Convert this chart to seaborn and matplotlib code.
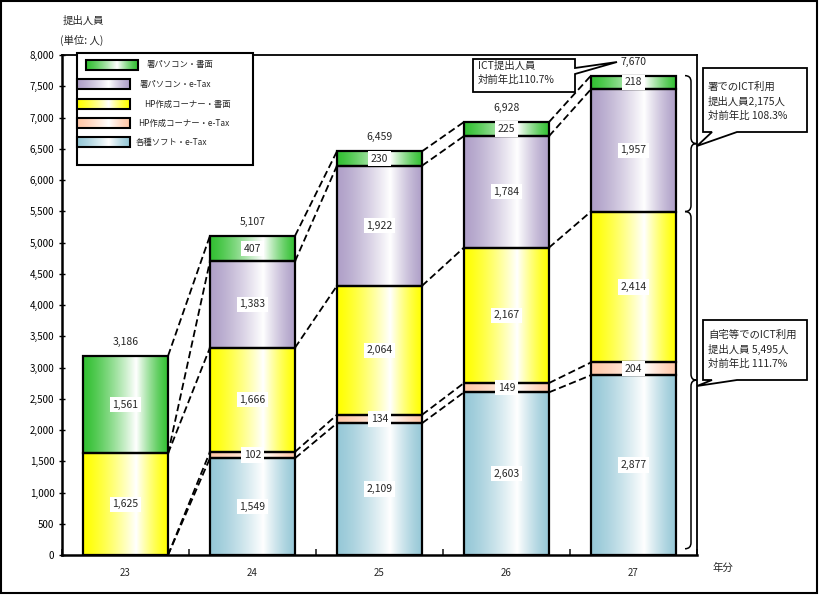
import numpy as np
import pandas as pd
import matplotlib
matplotlib.use("Agg")
import matplotlib.pyplot as plt
import seaborn as sns
from matplotlib.patches import Rectangle, Polygon, PathPatch
from matplotlib.path import Path
from matplotlib.ticker import FuncFormatter, MultipleLocator

sns.set_theme(style="white")
plt.rcParams['font.family'] = ['Noto Sans CJK JP', 'DejaVu Sans']

# ---------------- data ----------------
years = ["23", "24", "25", "26", "27"]
soft_etax = [0, 1549, 2109, 2603, 2877]        # 各種ソフト・e-Tax
hp_etax = [0, 102, 134, 149, 204]              # HP作成コーナー・e-Tax
hp_paper = [1625, 1666, 2064, 2167, 2414]      # HP作成コーナー・書面
office_etax = [0, 1383, 1922, 1784, 1957]      # 署パソコン・e-Tax
office_paper = [1561, 407, 230, 225, 218]      # 署パソコン・書面
series_names = ["各種ソフト・e-Tax", "HP作成コーナー・e-Tax", "HP作成コーナー・書面",
                "署パソコン・e-Tax", "署パソコン・書面"]
series_vals = [soft_etax, hp_etax, hp_paper, office_etax, office_paper]
series_colors = ["#96c8d7", "#ffc8a8", "#ffff00", "#afa0c8", "#33c033"]
yticks = list(range(0, 8001, 500))
callout_total = "ICT提出人員\n対前年比110.7%"
callout_office = "署でのICT利用\n提出人員2,175人\n対前年比 108.3%"
callout_home = "自宅等でのICT利用\n提出人員 5,495人\n対前年比 111.7%"

W, H = 820, 596
fig = plt.figure(figsize=(W / 100, H / 100), dpi=100)
fig.patch.set_facecolor("white")
ax = fig.add_axes([62 / W, 1 - 555 / H, (697 - 62) / W, (555 - 55) / H])
ax.set_facecolor("white")


def grad_rgb(color, n=256, peak=0.62, power=1.3):
    c = np.array(matplotlib.colors.to_rgb(color))
    t = np.linspace(0, 1, n)
    w = np.where(t < peak, t / peak, (1 - t) / (1 - peak))
    w = np.clip(w, 0, 1) ** power
    rgb = c[None, :] * (1 - w[:, None]) + np.ones(3)[None, :] * w[:, None]
    return rgb[None, :, :]


bar_width = 0.67
bottoms = np.zeros(len(years))
cum_tops = []
for name, vals, col in zip(series_names, series_vals, series_colors):
    df = pd.DataFrame({"year": years, "v": vals})
    n0 = len(ax.patches)
    sns.barplot(data=df, x="year", y="v", order=years, color=col, width=bar_width,
                bottom=bottoms.copy(), ax=ax, errorbar=None, saturation=1)
    new = ax.patches[n0:]
    for p in new:
        x0, y0 = p.get_x(), p.get_y()
        w, h = p.get_width(), p.get_height()
        p.set_zorder(3)
        p.set_edgecolor("black")
        p.set_linewidth(1.6)
        if h > 0:
            ax.imshow(grad_rgb(col), extent=[x0, x0 + w, y0, y0 + h],
                      aspect="auto", zorder=2, interpolation="bilinear")
            p.set_facecolor("none")
        else:
            p.set_facecolor("none")
            p.set_linewidth(0)
    # value labels
    for i, v in enumerate(vals):
        if v > 0:
            ax.text(i, bottoms[i] + v / 2, f"{v:,}", ha="center", va="center",
                    fontsize=7.5, zorder=6,
                    bbox=dict(boxstyle="square,pad=0.25", fc="white", ec="none"))
    bottoms = bottoms + np.array(vals)
    cum_tops.append(bottoms.copy())

totals = bottoms
# series lines
hw = bar_width / 2
for tops in cum_tops:
    for i in range(len(years) - 1):
        ax.plot([i + hw, i + 1 - hw], [tops[i], tops[i + 1]], color="black",
                lw=1.3, ls=(0, (4, 2)), zorder=4)

# totals above bars
for i, t in enumerate(totals):
    ax.annotate(f"{int(t):,}", (i, t), xytext=(0, 10), textcoords="offset points",
                ha="center", va="center", fontsize=7.5, zorder=6)

# braces
def brace(ax, ytop, ybot, xt=4.5 - 0.5 / 127, xs=4.5 - 6 / 127, xc=4.5 - 12 / 127, r=96):
    ym = (ytop + ybot) / 2
    verts = [(xc, ytop), (xs, ytop), (xs, ytop - r),
             (xs, ym + r),
             (xs, ym), (xt, ym),
             (xs, ym), (xs, ym - r),
             (xs, ybot + r),
             (xs, ybot), (xc, ybot)]
    codes = [Path.MOVETO, Path.CURVE3, Path.CURVE3, Path.LINETO,
             Path.CURVE3, Path.CURVE3, Path.CURVE3, Path.CURVE3,
             Path.LINETO, Path.CURVE3, Path.CURVE3]
    ax.add_patch(PathPatch(Path(verts, codes), fc="none", ec="black", lw=1.1, zorder=5,
                           clip_on=False))

home_top = cum_tops[2][-1]
brace(ax, totals[-1], home_top)
brace(ax, home_top, 100)

ax.set_xlim(-0.5, 4.5)
ax.set_ylim(0, 8000)
ax.set_yticks(yticks)
ax.yaxis.set_major_formatter(FuncFormatter(lambda v, p: f"{int(v):,}"))
ax.set_xticks(range(len(years)))
ax.set_xticklabels(years)
ax.xaxis.set_minor_locator(MultipleLocator(1, offset=0.5))
ax.tick_params(axis="y", which="major", direction="inout", length=5, width=1,
               labelsize=7, pad=3, left=True, colors="black")
ax.tick_params(axis="x", which="major", length=0, labelsize=7, pad=9)
ax.tick_params(axis="x", which="minor", direction="in", length=4, width=1.2, bottom=True)
ax.set_xlabel("")
ax.set_ylabel("")
for s in ax.spines.values():
    s.set_color("black")
    s.set_linewidth(1.3)
    s.set_visible(True)
ax.spines["left"].set_linewidth(1.8)
ax.spines["bottom"].set_linewidth(1.8)

# ---------------- overlay (pixel coordinates) ----------------
oax = fig.add_axes([0, 0, 1, 1], zorder=10)
oax.set_xlim(0, W)
oax.set_ylim(H, 0)
oax.axis("off")
oax.patch.set_alpha(0)

# figure border
oax.add_patch(Rectangle((1, 1), 816, 592, fc="none", ec="black", lw=1.5))

# axis titles
oax.text(63, 21, "提出人員", ha="left", va="center", fontsize=7.5)
oax.text(60, 40, "(単位: 人)", ha="left", va="center", fontsize=7.5)
oax.text(713, 568, "年分", ha="left", va="center", fontsize=7.5)

# legend
oax.add_patch(Rectangle((77, 53), 176, 112, fc="white", ec="black", lw=1.5, zorder=1))
leg_items = [
    (series_names[4], series_colors[4], 86, 138, 65, 147),
    (series_names[3], series_colors[3], 77, 130, 84, 140),
    (series_names[2], series_colors[2], 77, 130, 104, 144),
    (series_names[1], series_colors[1], 77, 130, 123, 138),
    (series_names[0], series_colors[0], 77, 130, 142, 136),
]
for name, col, xa, xb, yc, tx in leg_items:
    oax.imshow(grad_rgb(col, peak=0.6), extent=[xa, xb, yc + 5, yc - 5], aspect="auto",
               zorder=2, interpolation="bilinear")
    oax.add_patch(Rectangle((xa, yc - 5), xb - xa, 10, fc="none", ec="black", lw=1.5, zorder=3))
    oax.text(tx, yc, name, ha="left", va="center", fontsize=6, zorder=3)

# callouts
def callout(pts, text, tx, ty):
    oax.add_patch(Polygon(pts, closed=True, fc="white", ec="black", lw=1.3, zorder=4))
    oax.text(tx, ty, text, ha="left", va="top", fontsize=7.5, linespacing=1.45, zorder=5)

callout([(473, 59), (575, 59), (575, 68), (617, 62), (575, 74), (575, 92), (473, 92)],
        callout_total, 478, 61)
callout([(703, 68), (807, 68), (807, 132), (737, 132), (697, 146), (712, 132), (703, 132)],
        callout_office, 708, 82)
callout([(703, 320), (807, 320), (807, 380), (737, 380), (697, 386), (712, 380), (703, 380)],
        callout_home, 708, 330)

fig.savefig("out.png", dpi=100, facecolor="white")
